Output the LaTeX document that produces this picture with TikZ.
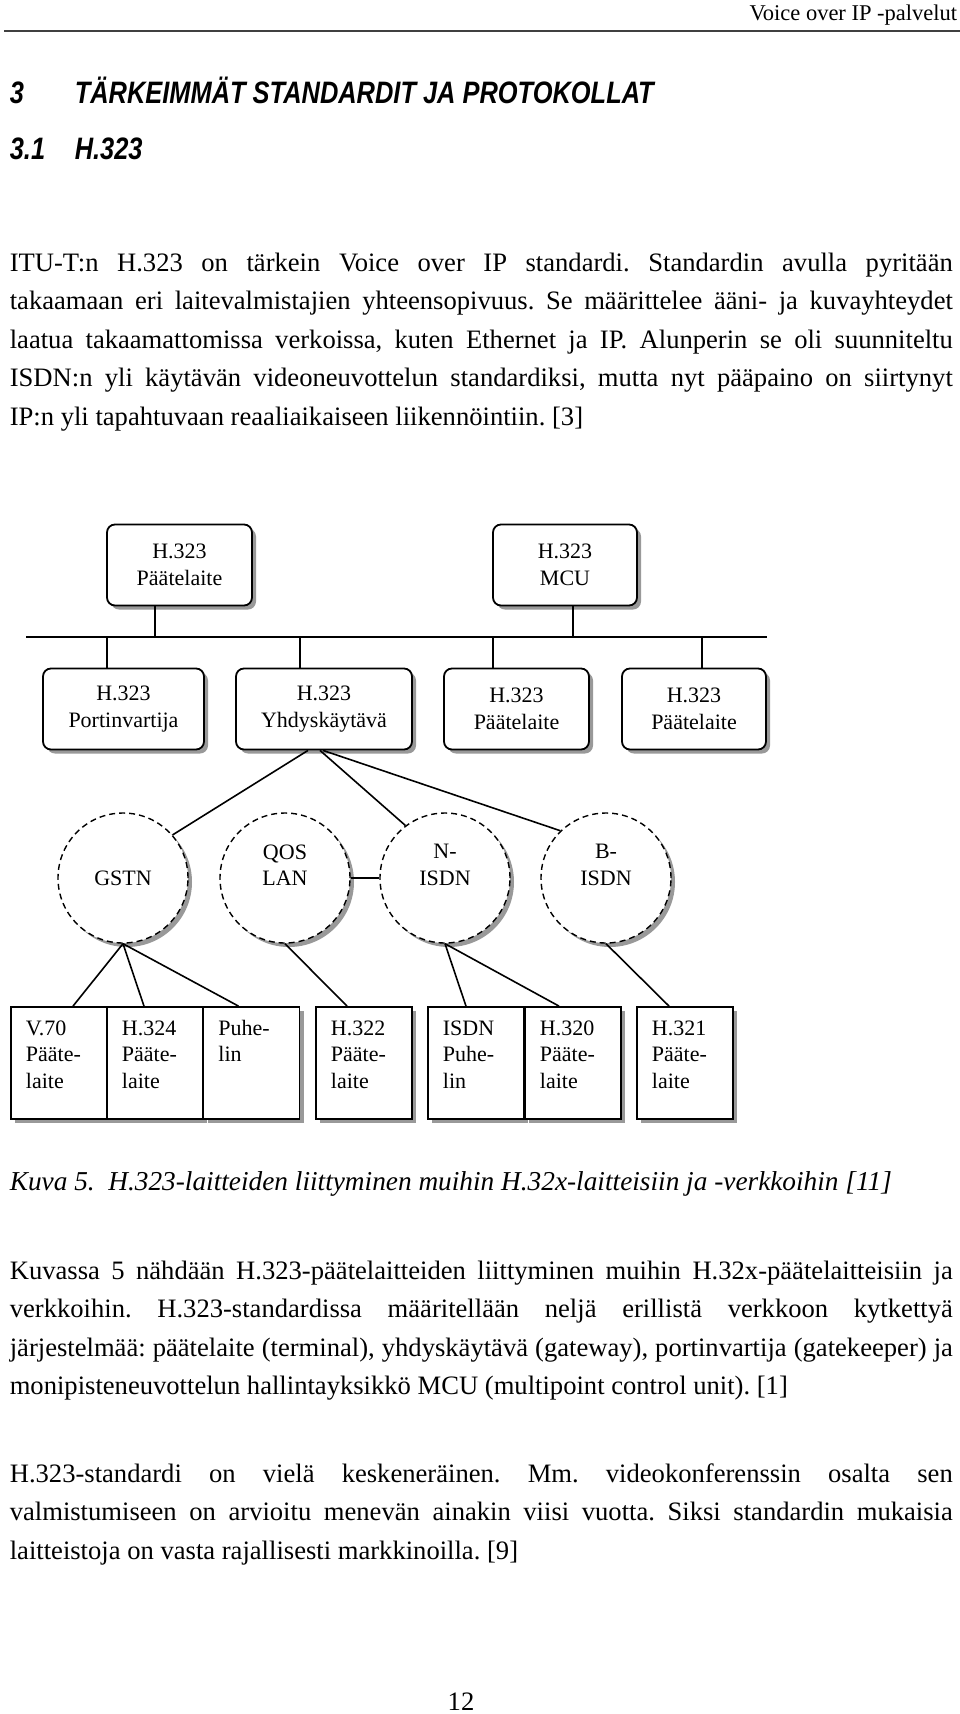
\documentclass[tikz,border=0pt]{standalone}
\usepackage{graphicx}
\usepackage{fontspec}
\setmainfont{Liberation Serif}
\newfontfamily\headfont{Liberation Sans}[FakeStretch=0.82]
\usetikzlibrary{shadows}
\frenchspacing
\hyphenpenalty=10000
\exhyphenpenalty=10000
\tolerance=10000

\begin{document}
\begin{tikzpicture}[x=1pt,y=-1pt,
    line width=1.6pt,
    shade/.style={drop shadow={shadow xshift=4pt,shadow yshift=-4pt,fill=black!40,opacity=1}},
    body/.style={font=\fontsize{26.6}{38.5}\selectfont,inner sep=0pt},
    para/.style={body,text width=943pt,align=justify,anchor=base west},
    head/.style={font=\headfont\bfseries\itshape\fontsize{31}{33}\selectfont,inner sep=0pt,anchor=base west},
    small/.style={font=\fontsize{22}{26.5}\selectfont},
    dev/.style={small,draw,fill=white,rounded corners=8pt,line width=1.8pt,minimum height=81pt,inner sep=0pt,align=center,shade},
    net/.style={draw,dash pattern=on 6pt off 4pt,fill=white,circle,minimum size=130pt,inner sep=0pt,line width=1.4pt,shade},
    nettext/.style={small,align=center,inner sep=0pt},
    unit/.style={draw,fill=white,line width=1.8pt,minimum width=96pt,minimum height=112pt,inner sep=0pt,shade},
    unittext/.style={small,anchor=base west,text width=78pt,align=left,inner sep=0pt}]
  \fill[white] (0,0) rectangle (960,1714);
  \useasboundingbox (0,0) rectangle (960,1714);

  \node[anchor=base east,inner sep=0pt,font=\fontsize{22.5}{24}\selectfont] (runhead) at (958,20) {Voice over IP -palvelut};
  \coordinate (ruleL) at (4,31);
  \coordinate (ruleR) at (960,31);
  \draw[line width=1.5pt,black!75] (ruleL) -- (ruleR);

  \node[head] (chapnum) at (9,103) {3};
  \node[head] (chap) at (74,103) {TÄRKEIMMÄT STANDARDIT JA PROTOKOLLAT};
  \node[head] (secnum) at (9,159) {3.1};
  \node[head] (sec) at (74,159) {H.323};

  \node[para] (intro) at (9,271) {ITU-T:n H.323 on tärkein Voice over IP standardi. Standardin avulla pyritään\linebreak
    takaamaan eri laitevalmistajien yhteensopivuus. Se määrittelee ääni- ja kuvayhteydet\linebreak
    laatua takaamattomissa verkoissa, kuten Ethernet ja IP. Alunperin se oli suunniteltu\linebreak
    ISDN:n yli käytävän videoneuvottelun standardiksi, mutta nyt pääpaino on siirtynyt\linebreak
    IP:n yli tapahtuvaan reaaliaikaiseen liikennöintiin. [3]};

  \node[dev,minimum width=145pt] (tp1) at (179.5,565) {H.323\\Päätelaite};
  \node[dev,minimum width=144pt] (mcu) at (565,565) {H.323\\MCU};
  \node[dev,minimum width=161pt] (gk) at (123.5,709) {H.323\\Portinvartija};
  \node[dev,minimum width=176pt] (gw) at (324,709) {H.323\\Yhdyskäytävä};
  \node[dev,minimum width=145pt] (tp2) at (516.5,709) {H.323\\Päätelaite};
  \node[dev,minimum width=144pt] (tp3) at (694,709) {H.323\\Päätelaite};

  \coordinate (busL) at (26,637);
  \coordinate (busR) at (767,637);
  \draw[line width=1.8pt] (busL) -- (busR);
  \foreach \n/\x in {tp1/155,mcu/573} {
    \coordinate (bus-\n) at (\x,637);
    \draw (bus-\n) -- (bus-\n |- \n.south);
  }
  \foreach \n/\x in {gk/107,gw/300,tp2/493,tp3/702} {
    \coordinate (bus-\n) at (\x,637);
    \draw (bus-\n) -- (bus-\n |- \n.north);
  }

  \node[net] (gstn) at (123,878) {};
  \node[net] (qos) at (285,878) {};
  \node[net] (nisdn) at (445,878) {};
  \node[net] (bisdn) at (606,878) {};
  \node[nettext] (gstn-t) at (gstn.center) {GSTN};
  \node[nettext] (qos-t) at ([yshift=13pt]qos.center) {QOS\\LAN};
  \node[nettext] (nisdn-t) at ([yshift=13pt]nisdn.center) {N-\\ISDN};
  \node[nettext] (bisdn-t) at ([yshift=13pt]bisdn.center) {B-\\ISDN};

  \draw ([xshift=-16pt]gw.south) -- (gstn.41);
  \draw ([xshift=-4pt]gw.south) -- (nisdn.127);
  \draw ([xshift=-1pt]gw.south) -- (bisdn.134);
  \draw (qos.east) -- (nisdn.west);

  \foreach \n/\x in {v70/59,h324/155,puh/251.5,h322/364,ipuh/476,h320/573,h321/685}
    \node[unit] (\n) at (\x,1063) {};
  \foreach \n/\t in {v70/{V.70\\Pääte-\\laite},h324/{H.324\\Pääte-\\laite},puh/{Puhe-\\lin},
      h322/{H.322\\Pääte-\\laite},ipuh/{ISDN\\Puhe-\\lin},h320/{H.320\\Pääte-\\laite},h321/{H.321\\Pääte-\\laite}}
    \node[unittext] (\n-t) at ([xshift=15pt,yshift=-29pt]\n.north west) {\t};

  \draw (gstn.south) -- ([xshift=14pt]v70.north);
  \draw (gstn.south) -- ([xshift=-11pt]h324.north);
  \draw (gstn.south) -- ([xshift=-13pt]puh.north);
  \draw (qos.south) -- ([xshift=-17pt]h322.north);
  \draw (nisdn.south) -- ([xshift=-10pt]ipuh.north);
  \draw (nisdn.south) -- ([xshift=-14pt]h320.north);
  \draw (bisdn.south) -- ([xshift=-16pt]h321.north);

  \node[inner sep=0pt,anchor=base west,font=\itshape\fontsize{27.3}{38.5}\selectfont] (caption) at (9,1190)
    {Kuva 5.\ \ H.323-laitteiden liittyminen muihin H.32x-laitteisiin ja -verkkoihin [11]};

  \node[para] (terms) at (9,1279) {Kuvassa 5 nähdään H.323-päätelaitteiden liittyminen muihin H.32x-päätelaitteisiin ja\linebreak
    verkkoihin. H.323-standardissa määritellään neljä erillistä verkkoon kytkettyä\linebreak
    järjestelmää: päätelaite (terminal), yhdyskäytävä (gateway), portinvartija (gatekeeper) ja\linebreak
    monipisteneuvottelun hallintayksikkö MCU (multipoint control unit). [1]};

  \node[para] (status) at (9,1482) {H.323-standardi on vielä keskeneräinen. Mm. videokonferenssin osalta sen\linebreak
    valmistumiseen on arvioitu menevän ainakin viisi vuotta. Siksi standardin mukaisia\linebreak
    laitteistoja on vasta rajallisesti markkinoilla. [9]};

  \node[body,anchor=base] (pagenum) at (461,1710) {12};
\end{tikzpicture}
\end{document}
